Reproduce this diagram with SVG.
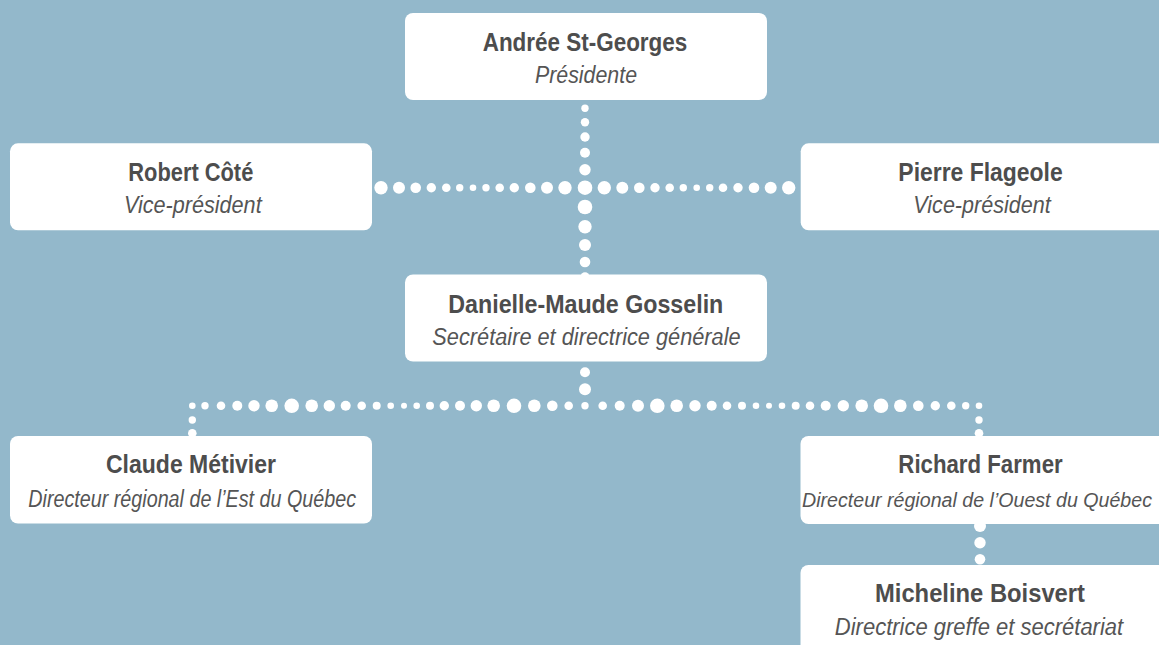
<svg xmlns="http://www.w3.org/2000/svg" width="1159" height="645" viewBox="0 0 1159 645">
<style>
.box{fill:#ffffff}
.d{fill:#ffffff}
.name{font-family:"Liberation Sans",Arial,sans-serif;font-weight:bold;font-size:25px;fill:#4d4d4d;text-anchor:middle}
.role{font-family:"Liberation Sans",Arial,sans-serif;font-style:italic;font-size:23px;fill:#555555;text-anchor:middle}
</style>
<rect x="0" y="0" width="1159" height="645" fill="#93b8cb"/>
<g id="connectors">
<circle class="d" cx="585" cy="108.3" r="3.7"/>
<circle class="d" cx="585" cy="122.3" r="4.2"/>
<circle class="d" cx="585" cy="137" r="4.7"/>
<circle class="d" cx="585" cy="152.7" r="5"/>
<circle class="d" cx="585" cy="169.7" r="5.7"/>
<circle class="d" cx="585" cy="187.7" r="7.3"/>
<circle class="d" cx="585" cy="207" r="7.3"/>
<circle class="d" cx="585" cy="226.7" r="6.7"/>
<circle class="d" cx="585" cy="245" r="6"/>
<circle class="d" cx="585" cy="262" r="5.3"/>
<circle class="d" cx="585" cy="276.7" r="4.5"/>
<circle class="d" cx="381" cy="187.7" r="6.7"/>
<circle class="d" cx="399" cy="187.7" r="6"/>
<circle class="d" cx="415.7" cy="187.7" r="5.3"/>
<circle class="d" cx="431.3" cy="187.7" r="4.7"/>
<circle class="d" cx="446.3" cy="187.7" r="4.3"/>
<circle class="d" cx="459.7" cy="187.7" r="3.7"/>
<circle class="d" cx="473" cy="187.7" r="3.3"/>
<circle class="d" cx="486" cy="187.7" r="3.7"/>
<circle class="d" cx="499.7" cy="187.7" r="4.3"/>
<circle class="d" cx="514.3" cy="187.7" r="4.7"/>
<circle class="d" cx="530.3" cy="187.7" r="5.3"/>
<circle class="d" cx="547" cy="187.7" r="6"/>
<circle class="d" cx="565" cy="187.7" r="6.7"/>
<circle class="d" cx="604.3" cy="187.7" r="6.7"/>
<circle class="d" cx="622.3" cy="187.7" r="6"/>
<circle class="d" cx="639.3" cy="187.7" r="5.3"/>
<circle class="d" cx="655" cy="187.7" r="4.7"/>
<circle class="d" cx="669.7" cy="187.7" r="4.3"/>
<circle class="d" cx="683.3" cy="187.7" r="3.7"/>
<circle class="d" cx="696.7" cy="187.7" r="3.3"/>
<circle class="d" cx="709.7" cy="187.7" r="3.7"/>
<circle class="d" cx="723" cy="187.7" r="4.3"/>
<circle class="d" cx="738" cy="187.7" r="4.7"/>
<circle class="d" cx="754" cy="187.7" r="5.3"/>
<circle class="d" cx="770.7" cy="187.7" r="6"/>
<circle class="d" cx="788.7" cy="187.7" r="6.7"/>
<circle class="d" cx="585" cy="372.3" r="5"/>
<circle class="d" cx="585" cy="389.3" r="6"/>
<circle class="d" cx="192.3" cy="405.8" r="3.3"/>
<circle class="d" cx="205" cy="405.8" r="3.7"/>
<circle class="d" cx="221" cy="405.8" r="4.3"/>
<circle class="d" cx="237.3" cy="405.8" r="5"/>
<circle class="d" cx="254" cy="405.8" r="5.7"/>
<circle class="d" cx="271.7" cy="405.8" r="6.3"/>
<circle class="d" cx="291.7" cy="405.8" r="7.3"/>
<circle class="d" cx="311.7" cy="405.8" r="6.3"/>
<circle class="d" cx="329.3" cy="405.8" r="5.7"/>
<circle class="d" cx="345.7" cy="405.8" r="5"/>
<circle class="d" cx="361.7" cy="405.8" r="4.3"/>
<circle class="d" cx="376.7" cy="405.8" r="4"/>
<circle class="d" cx="390.7" cy="405.8" r="3.3"/>
<circle class="d" cx="404" cy="405.8" r="3"/>
<circle class="d" cx="416.7" cy="405.8" r="3.3"/>
<circle class="d" cx="430" cy="405.8" r="4"/>
<circle class="d" cx="444.3" cy="405.8" r="4.7"/>
<circle class="d" cx="460" cy="405.8" r="5"/>
<circle class="d" cx="476.3" cy="405.8" r="5.7"/>
<circle class="d" cx="493.7" cy="405.8" r="6.3"/>
<circle class="d" cx="514" cy="405.8" r="7.3"/>
<circle class="d" cx="534.3" cy="405.8" r="6.3"/>
<circle class="d" cx="552.3" cy="405.8" r="5.3"/>
<circle class="d" cx="568.7" cy="405.8" r="4.3"/>
<circle class="d" cx="585" cy="405.8" r="3.7"/>
<circle class="d" cx="602.7" cy="405.8" r="4.3"/>
<circle class="d" cx="619.7" cy="405.8" r="5"/>
<circle class="d" cx="638" cy="405.8" r="6"/>
<circle class="d" cx="657.3" cy="405.8" r="7.3"/>
<circle class="d" cx="676.7" cy="405.8" r="6.3"/>
<circle class="d" cx="695" cy="405.8" r="5.7"/>
<circle class="d" cx="711.7" cy="405.8" r="5"/>
<circle class="d" cx="727" cy="405.8" r="4.3"/>
<circle class="d" cx="742" cy="405.8" r="4"/>
<circle class="d" cx="756" cy="405.8" r="3.3"/>
<circle class="d" cx="769" cy="405.8" r="3"/>
<circle class="d" cx="782" cy="405.8" r="3.3"/>
<circle class="d" cx="795.7" cy="405.8" r="4"/>
<circle class="d" cx="810" cy="405.8" r="4.3"/>
<circle class="d" cx="825.7" cy="405.8" r="5"/>
<circle class="d" cx="843.3" cy="405.8" r="5.7"/>
<circle class="d" cx="861.7" cy="405.8" r="6.3"/>
<circle class="d" cx="881" cy="405.8" r="7.3"/>
<circle class="d" cx="900.3" cy="405.8" r="6.3"/>
<circle class="d" cx="918.3" cy="405.8" r="5.3"/>
<circle class="d" cx="935.3" cy="405.8" r="4.7"/>
<circle class="d" cx="951.3" cy="405.8" r="4.3"/>
<circle class="d" cx="965.7" cy="405.8" r="3.7"/>
<circle class="d" cx="979" cy="405.8" r="3.3"/>
<circle class="d" cx="192.3" cy="420" r="3.7"/>
<circle class="d" cx="192.3" cy="433.3" r="4.3"/>
<circle class="d" cx="979" cy="420" r="3.7"/>
<circle class="d" cx="979" cy="433.3" r="4.3"/>
<circle class="d" cx="980" cy="526" r="6"/>
<circle class="d" cx="980" cy="542.7" r="5.7"/>
<circle class="d" cx="980" cy="559.3" r="5.3"/>
</g>
<g id="node-president">
<rect class="box" x="405" y="13" width="362" height="87" rx="8"/>
<text class="name" x="585" y="50.7" textLength="204.6" lengthAdjust="spacingAndGlyphs">Andrée St-Georges</text>
<text class="role" x="586" y="83.3" textLength="102" lengthAdjust="spacingAndGlyphs">Présidente</text>
</g>
<g id="node-robert">
<rect class="box" x="10" y="143.3" width="362" height="87" rx="8"/>
<text class="name" x="190.8" y="180.7" textLength="125" lengthAdjust="spacingAndGlyphs">Robert Côté</text>
<text class="role" x="192.8" y="213.3" textLength="137.7" lengthAdjust="spacingAndGlyphs">Vice-président</text>
</g>
<g id="node-pierre">
<rect class="box" x="800.7" y="143.3" width="370" height="87" rx="8"/>
<text class="name" x="980.5" y="180.7" textLength="164.3" lengthAdjust="spacingAndGlyphs">Pierre Flageole</text>
<text class="role" x="982" y="213.3" textLength="137.3" lengthAdjust="spacingAndGlyphs">Vice-président</text>
</g>
<g id="node-danielle">
<rect class="box" x="405" y="274.5" width="362" height="87" rx="8"/>
<text class="name" x="585.8" y="313.3" textLength="275" lengthAdjust="spacingAndGlyphs">Danielle-Maude Gosselin</text>
<text class="role" x="586.5" y="345" textLength="308.3" lengthAdjust="spacingAndGlyphs">Secrétaire et directrice générale</text>
</g>
<g id="node-claude">
<rect class="box" x="10" y="436" width="362" height="87.5" rx="8"/>
<text class="name" x="191" y="473.3" textLength="170" lengthAdjust="spacingAndGlyphs">Claude Métivier</text>
<text class="role" x="192.2" y="506.7" textLength="327.7" lengthAdjust="spacingAndGlyphs">Directeur régional de l’Est du Québec</text>
</g>
<g id="node-richard">
<rect class="box" x="800.5" y="436" width="370" height="88" rx="8"/>
<text class="name" x="980.5" y="473.3" textLength="164.3" lengthAdjust="spacingAndGlyphs">Richard Farmer</text>
<text class="role" x="977" y="506.7" style="font-size:20px" textLength="350" lengthAdjust="spacingAndGlyphs">Directeur régional de l’Ouest du Québec</text>
</g>
<g id="node-micheline">
<rect class="box" x="800.5" y="565" width="370" height="100" rx="8"/>
<text class="name" x="980" y="601.7" textLength="210" lengthAdjust="spacingAndGlyphs">Micheline Boisvert</text>
<text class="role" x="979" y="635" textLength="288.3" lengthAdjust="spacingAndGlyphs">Directrice greffe et secrétariat</text>
</g>
</svg>
